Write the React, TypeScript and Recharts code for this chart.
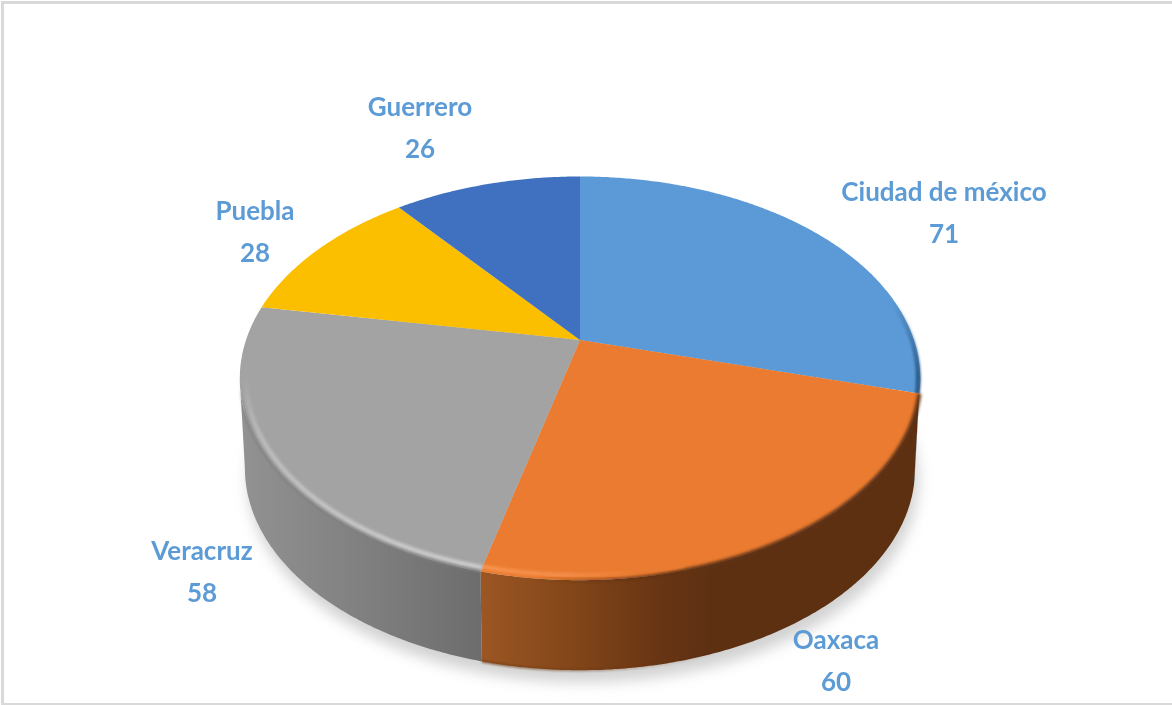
import React from "react";
import { PieChart, Pie } from "recharts";

const categories = ["Ciudad de méxico", "Oaxaca", "Veracruz", "Puebla", "Guerrero"];
const values = [71, 60, 58, 28, 26];
const colors = ["#5b9ad6", "#ea7b30", "#a3a3a3", "#fcbf00", "#4070c0"];

// label centre relative to the pie vertex, same order as categories
const labelOffsets = [
  [364, -148],
  [256, 300],
  [-378, 211],
  [-325, -129],
  [-160, -233],
];

const chartData = categories.map((name, i) => ({ name, value: values[i], fill: colors[i] }));

// Excel's tilted 3D pie: a circle pushed through a perspective projection
const TILT = 0.5826;
const PERSPECTIVE = 0.19;
const DEPTH = 90;
const BOTTOM_SCALE = 0.985;
const FRONT_START = 101;
const FRONT_END = 259;

function project(clock: number, cx: number, cy: number, r: number) {
  const rad = (clock * Math.PI) / 180;
  const u = Math.sin(rad);
  const v = Math.cos(rad);
  const w = 1 + PERSPECTIVE * v;
  return [cx + (r * u) / w, cy - (r * TILT * v) / w];
}

function arcPoints(from: number, to: number, cx: number, cy: number, r: number) {
  const steps = Math.max(2, Math.ceil(Math.abs(to - from) * 2));
  const pts: number[][] = [];
  for (let i = 0; i <= steps; i++) {
    pts.push(project(from + ((to - from) * i) / steps, cx, cy, r));
  }
  return pts;
}

const toPath = (pts: number[][]) => pts.map((p, i) => `${i ? "L" : "M"}${p[0].toFixed(1)} ${p[1].toFixed(1)}`).join(" ");

const lower = (pts: number[][], cx: number) =>
  pts.map((p) => [cx + (p[0] - cx) * BOTTOM_SCALE, p[1] + DEPTH]);

function PerspectiveSlice(props: any) {
  const { cx, cy, outerRadius, startAngle, endAngle, fill } = props;
  const name = props.name ?? props.payload?.name;
  const idx = categories.indexOf(name);
  const from = 90 - startAngle;
  const to = 90 - endAngle;

  const face = toPath([[cx, cy], ...arcPoints(from, to, cx, cy, outerRadius)]) + " Z";

  const sideFrom = Math.max(from, FRONT_START);
  const sideTo = Math.min(to, FRONT_END);
  let side = null;
  let bottomEdge = "";
  if (sideTo > sideFrom) {
    const top = arcPoints(sideFrom, sideTo, cx, cy, outerRadius);
    const bottom = lower(top, cx);
    bottomEdge = toPath(bottom);
    side = toPath([...top, ...bottom.reverse()]) + " Z";
  }

  const shadow = toPath(lower(arcPoints(0, 360, cx, cy, outerRadius), cx)) + " Z";

  return (
    <g>
      {idx === 0 && (
        <path d={shadow} fill="#d2d2d2" transform="translate(3 12)" filter="url(#blur7)" />
      )}
      {side && <path d={side} fill={`url(#side${idx})`} />}
      {side && idx === 1 && (
        <path d={bottomEdge} fill="none" stroke="url(#orangeBottom)" strokeWidth={2} filter="url(#blur1)" />
      )}
      <path d={face} fill={fill} />
      {idx === 0 && (
        <path
          d={toPath(arcPoints(70, to, cx, cy, outerRadius - 2))}
          fill="none"
          stroke="url(#blueRim)"
          strokeWidth={5}
          filter="url(#blur1)"
        />
      )}
      {idx === 1 && (
        <>
          <path
            d={toPath(arcPoints(from, to, cx, cy, outerRadius))}
            fill="none"
            stroke="url(#orangeDark)"
            strokeWidth={4}
            filter="url(#blur2)"
          />
          <path
            d={toPath(arcPoints(165, to, cx, cy, outerRadius - 7))}
            fill="none"
            stroke="url(#orangeLight)"
            strokeWidth={4}
            filter="url(#blur2)"
          />
        </>
      )}
      {idx === 2 && (
        <>
          <path
            d={toPath(arcPoints(from, 285, cx, cy, outerRadius - 6))}
            fill="none"
            stroke="url(#grayLight)"
            strokeWidth={4}
            filter="url(#blur2)"
          />
          <path
            d={toPath(arcPoints(from, FRONT_END, cx, cy, outerRadius))}
            fill="none"
            stroke="url(#grayEdge)"
            strokeWidth={2}
            filter="url(#blur1)"
          />
        </>
      )}
    </g>
  );
}

function renderLabel(props: any) {
  const { cx, cy, name, value } = props;
  const [dx, dy] = labelOffsets[categories.indexOf(name)];
  return (
    <text
      x={cx + dx}
      y={cy + dy}
      textAnchor="middle"
      fill="#5b9bd5"
      fontFamily="Lato, sans-serif"
      fontWeight={700}
      fontSize={26}
      filter="url(#blurText)"
    >
      <tspan x={cx + dx} dy={9}>{name}</tspan>
      <tspan x={cx + dx} dy={41.5}>{value}</tspan>
    </text>
  );
}

export default function App() {
  return (
    <div style={{ position: "absolute", left: 0, top: 0, width: 1172, height: 705, background: "#fff", overflow: "hidden" }}>
      <div
        style={{
          position: "absolute",
          left: 1,
          top: 1,
          right: -4,
          bottom: 0,
          borderLeft: "3px solid #d9d9d9",
          borderTop: "3px solid #d9d9d9",
          borderBottom: "2px solid #d9d9d9",
        }}
      />
      <div style={{ position: "absolute", left: 0, top: 0 }}>
        <PieChart width={1172} height={705} margin={{ top: 0, right: 0, bottom: 0, left: 0 }}>
          <defs>
            <filter id="blurText" x="-5%" y="-5%" width="110%" height="110%">
              <feGaussianBlur stdDeviation={0.45} />
            </filter>
            <filter id="blur1" x="-10%" y="-10%" width="120%" height="120%">
              <feGaussianBlur stdDeviation={1.2} />
            </filter>
            <filter id="blur2" x="-10%" y="-10%" width="120%" height="120%">
              <feGaussianBlur stdDeviation={1.8} />
            </filter>
            <filter id="blur7" x="-10%" y="-10%" width="120%" height="120%">
              <feGaussianBlur stdDeviation={7} />
            </filter>
            <linearGradient id="side0" gradientUnits="userSpaceOnUse" x1={900} y1={0} x2={925} y2={0}>
              <stop offset="0" stopColor="#2f5f8e" />
              <stop offset="1" stopColor="#2f5f8e" />
            </linearGradient>
            <linearGradient id="side1" gradientUnits="userSpaceOnUse" x1={482} y1={0} x2={710} y2={0}>
              <stop offset="0" stopColor="#9b5623" />
              <stop offset="0.4" stopColor="#824619" />
              <stop offset="0.75" stopColor="#6a3614" />
              <stop offset="1" stopColor="#5e3012" />
            </linearGradient>
            <linearGradient id="side2" gradientUnits="userSpaceOnUse" x1={240} y1={0} x2={484} y2={0}>
              <stop offset="0" stopColor="#929292" />
              <stop offset="0.5" stopColor="#808080" />
              <stop offset="1" stopColor="#6c6c6c" />
            </linearGradient>
            <linearGradient id="orangeBottom" gradientUnits="userSpaceOnUse" x1={482} y1={0} x2={720} y2={0}>
              <stop offset="0" stopColor="#6e3a15" stopOpacity={0.9} />
              <stop offset="1" stopColor="#5e3012" stopOpacity={0} />
            </linearGradient>
            <linearGradient id="orangeDark" gradientUnits="userSpaceOnUse" x1={530} y1={0} x2={680} y2={0}>
              <stop offset="0" stopColor="#5e3012" stopOpacity={0} />
              <stop offset="1" stopColor="#5e3012" stopOpacity={1} />
            </linearGradient>
            <linearGradient id="orangeLight" gradientUnits="userSpaceOnUse" x1={482} y1={0} x2={640} y2={0}>
              <stop offset="0" stopColor="#f8954f" />
              <stop offset="0.5" stopColor="#f5904c" />
              <stop offset="1" stopColor="#ea7b30" />
            </linearGradient>
            <linearGradient id="grayLight" gradientUnits="userSpaceOnUse" x1={0} y1={570} x2={0} y2={375}>
              <stop offset="0" stopColor="#d0d0d0" />
              <stop offset="0.7" stopColor="#bcbcbc" />
              <stop offset="1" stopColor="#a3a3a3" />
            </linearGradient>
            <linearGradient id="grayEdge" gradientUnits="userSpaceOnUse" x1={0} y1={570} x2={0} y2={385}>
              <stop offset="0" stopColor="#7d7d7d" />
              <stop offset="0.8" stopColor="#7d7d7d" />
              <stop offset="1" stopColor="#7d7d7d" stopOpacity={0} />
            </linearGradient>
            <linearGradient id="blueRim" gradientUnits="userSpaceOnUse" x1={0} y1={300} x2={0} y2={375}>
              <stop offset="0" stopColor="#2f5f8e" stopOpacity={0} />
              <stop offset="1" stopColor="#2f5f8e" stopOpacity={1} />
            </linearGradient>
          </defs>
          <Pie
            data={chartData}
            dataKey="value"
            nameKey="name"
            cx={580}
            cy={340}
            outerRadius={334}
            startAngle={90}
            endAngle={-270}
            stroke="none"
            shape={PerspectiveSlice}
            label={renderLabel}
            labelLine={false}
            isAnimationActive={false}
          />
        </PieChart>
      </div>
    </div>
  );
}
